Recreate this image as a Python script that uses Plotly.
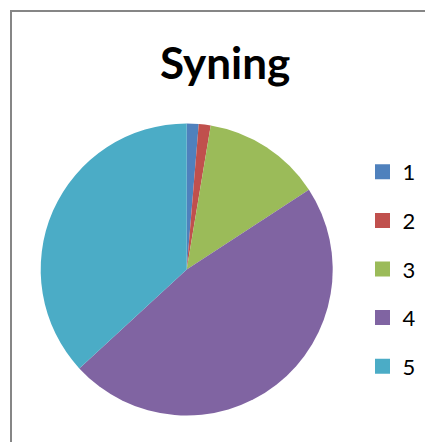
import plotly.graph_objects as go

# Slice data
labels = ["1", "2", "3", "4", "5"]
values = [1, 1, 10, 36, 28]
colors = ["#4F81BD", "#C0504D", "#9BBB59", "#8064A2", "#4BACC6"]
title_text = "Syning"

W, H = 425, 442

fig = go.Figure()

# Pie centred at (186.7, 269.5) px with radius 146 px
cx, cy, r = 186.7, 269.5, 146
fig.add_trace(go.Pie(
    labels=labels,
    values=values,
    marker=dict(colors=colors, line=dict(color="white", width=0)),
    sort=False,
    direction="clockwise",
    rotation=0,
    textinfo="none",
    showlegend=False,
    domain=dict(x=[(cx - r) / W, (cx + r) / W],
                y=[(H - cy - r) / H, (H - cy + r) / H]),
))

# Legend entries, one group per label so the spacing can be set
for lab, col in zip(labels, colors):
    fig.add_trace(go.Scatter(
        x=[None], y=[None], mode="markers", name=lab,
        marker=dict(symbol="square", size=15, color=col),
        legendgroup=lab, showlegend=True, hoverinfo="skip",
    ))

fig.update_layout(
    width=W, height=H,
    margin=dict(l=0, r=0, t=0, b=0),
    paper_bgcolor="white",
    plot_bgcolor="white",
    xaxis=dict(visible=False),
    yaxis=dict(visible=False),
    showlegend=True,
    legend=dict(
        x=(382.5 - 20) / W, y=(H - 151) / H,
        xanchor="left", yanchor="top",
        font=dict(family="Lato", size=22, color="black"),
        tracegroupgap=17,
        bgcolor="rgba(0,0,0,0)",
    ),
    annotations=[dict(
        text="<b>" + title_text + "</b>",
        x=225 / W, y=(H - 62) / H, xref="paper", yref="paper",
        xanchor="center", yanchor="middle", showarrow=False,
        font=dict(family="Lato", size=44, color="black"),
    )],
    shapes=[dict(
        type="rect", xref="paper", yref="paper",
        x0=11 / W, x1=1.2, y0=-0.2, y1=(H - 11) / H,
        line=dict(color="#868686", width=2), fillcolor="rgba(0,0,0,0)",
    )],
)

fig.write_html("out.html")
